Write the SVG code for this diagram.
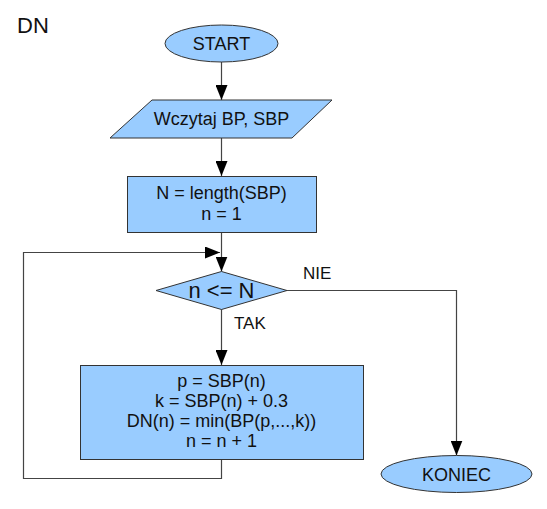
<svg xmlns="http://www.w3.org/2000/svg" width="547" height="509" viewBox="0 0 547 509">
<style>
.shape{fill:#99ccff;stroke:#333333;stroke-width:1}
.t{font-family:"Liberation Sans",Arial,sans-serif;font-size:18px;fill:#111111;text-anchor:middle}
.lbl{font-family:"Liberation Sans",Arial,sans-serif;font-size:17px;fill:#111111}
.conn{fill:none;stroke:#444444;stroke-width:1.2}
</style>
<defs>
<marker id="arr" markerUnits="userSpaceOnUse" markerWidth="16" markerHeight="12" refX="15" refY="6" orient="auto">
<path d="M0,0 L15,6 L0,12 Z" fill="#000000"/>
</marker>
</defs>
<rect width="547" height="509" fill="#ffffff"/>
<text x="17" y="33" font-family="Liberation Sans, Arial, sans-serif" font-size="22" fill="#111111">DN</text>
<g id="connectors">
<line class="conn" x1="221.5" y1="62" x2="221.5" y2="100" marker-end="url(#arr)"/>
<line class="conn" x1="221.5" y1="138" x2="221.5" y2="176" marker-end="url(#arr)"/>
<line class="conn" x1="221.5" y1="232" x2="221.5" y2="271.5" marker-end="url(#arr)"/>
<line class="conn" x1="221.5" y1="309" x2="221.5" y2="365" marker-end="url(#arr)"/>
<polyline class="conn" points="287,290.5 456.5,290.5 456.5,455.5" marker-end="url(#arr)"/>
<polyline class="conn" points="221.5,459 221.5,478.5 23.5,478.5 23.5,252.5 220,252.5" marker-end="url(#arr)"/>
<text class="lbl" x="234" y="329">TAK</text>
<text class="lbl" x="303" y="279">NIE</text>
</g>
<g id="start">
<ellipse class="shape" cx="221.5" cy="43.5" rx="56.5" ry="18.5"/>
<text class="t" x="221.5" y="50">START</text>
</g>
<g id="input">
<polygon class="shape" points="152,100 332,100 292,138 110,138"/>
<text class="t" x="221.5" y="125">Wczytaj BP, SBP</text>
</g>
<g id="init">
<rect class="shape" x="127.5" y="176.5" width="189" height="56"/>
<text class="t" x="221.5" y="199">N = length(SBP)</text>
<text class="t" x="221.5" y="220">n = 1</text>
</g>
<g id="cond">
<polygon class="shape" points="221.5,271.5 287,290.5 221.5,309.5 156,290.5"/>
<text class="t" x="221.5" y="298" style="font-size:22px">n &lt;= N</text>
</g>
<g id="body">
<rect class="shape" x="80.5" y="365.5" width="283" height="94"/>
<text class="t" x="221.5" y="387">p = SBP(n)</text>
<text class="t" x="221.5" y="407">k = SBP(n) + 0.3</text>
<text class="t" x="221.5" y="427">DN(n) = min(BP(p,...,k))</text>
<text class="t" x="221.5" y="447">n = n + 1</text>
</g>
<g id="end">
<ellipse class="shape" cx="456.5" cy="474" rx="75.5" ry="18.5"/>
<text class="t" x="456.5" y="480.5">KONIEC</text>
</g>
</svg>
